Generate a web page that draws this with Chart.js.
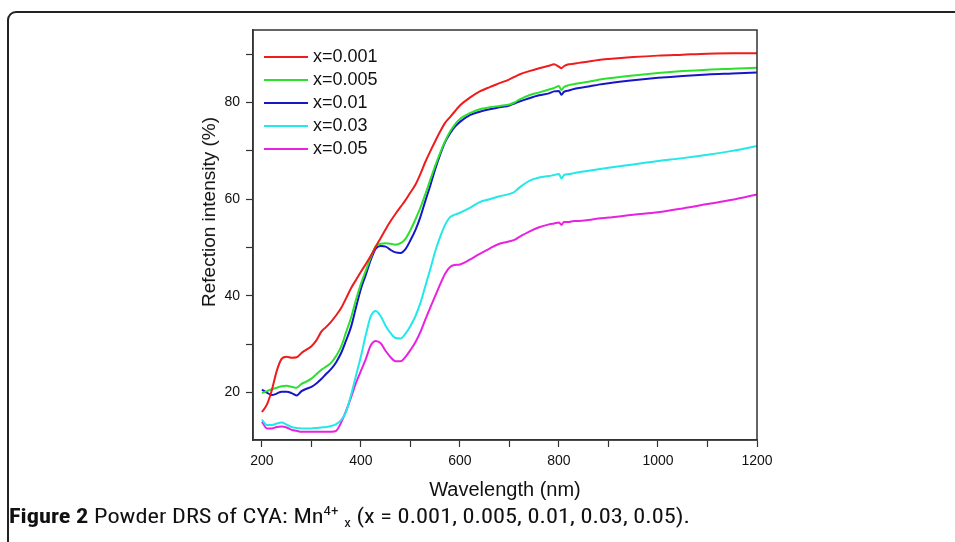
<!DOCTYPE html>
<html>
<head>
<meta charset="utf-8">
<script src="https://cdn.jsdelivr.net/npm/chart.js@4.4.1/dist/chart.umd.min.js"></script>
<style>
  html, body { margin: 0; padding: 0; background: #fff; }
  body { width: 955px; height: 542px; position: relative; overflow: hidden; font-family: "Liberation Sans", Arial, sans-serif; }
  #moldura { position: absolute; left: 7px; top: 11px; width: 1000px; height: 600px; border: 2px solid #222; border-radius: 9px; }
  #caixa { position: absolute; left: 0; top: 0; width: 955px; height: 542px; }
  #legenda { position: absolute; left: 264px; top: 45px; }
  .item { height: 23px; display: flex; align-items: center; font-size: 18px; color: #111; }
  .item .linha { display: inline-block; width: 44px; height: 2px; margin-right: 5px; }
  #tituloY { position: absolute; left: 209px; top: 212px; transform: translate(-50%, -50%) rotate(-90deg); font-size: 19px; color: #111; white-space: nowrap; }
  #legendaFig { position: absolute; left: 9px; top: 503px; font-family: "Liberation Sans Narrow", "Roboto Condensed", Roboto, sans-serif; font-size: 21px; color: #111; white-space: nowrap; transform-origin: 0 0; }
  #legendaFig b { font-weight: bold; }
  #legendaFig sup { font-size: 13px; vertical-align: 8px; }
  #legendaFig sub { font-size: 13px; vertical-align: -4px; }
</style>
</head>
<body>
<div id="moldura"></div>
<div id="caixa"><canvas id="grafico" width="955" height="542"></canvas></div>
<div id="legenda"></div>
<div id="tituloY">Refection intensity (%)</div>
<div id="legendaFig"><b>Figure 2</b> Powder DRS of CYA: Mn<sup>4+</sup> <sub>x</sub> (x = 0.001, 0.005, 0.01, 0.03, 0.05).</div>
<script>
const comprimentos = [200, 210, 220, 230, 240, 250, 260, 270, 280, 290, 300, 310, 320, 330, 340, 350, 360, 370, 380, 390,
  400, 410, 420, 430, 440, 450, 460, 470, 480, 490, 500, 510, 520, 530, 540, 550, 560, 570, 580, 590,
  600, 620, 640, 660, 680, 700, 710, 720, 740, 760, 780, 790, 800, 805, 810, 820, 830, 840, 860, 880,
  900, 950, 1000, 1050, 1100, 1150, 1200];

const rotulos = ['x=0.001', 'x=0.005', 'x=0.01', 'x=0.03', 'x=0.05'];
const cores = ['#ee1c1c', '#2ee02e', '#1616c8', '#22e8e8', '#e822e0'];

const x0001 = [16.0, 17.5, 20.5, 24.5, 27.0, 27.4, 27.2, 27.3, 28.2, 28.9, 29.6, 30.8, 32.6, 33.6, 34.7, 36.0, 37.5, 39.5, 41.6, 43.3,
  45.0, 46.6, 48.3, 50.2, 52.0, 53.8, 55.5, 57.0, 58.4, 59.8, 61.4, 63.0, 65.2, 67.7, 69.9, 72.0, 74.0, 75.8, 77.0, 78.2,
  79.4, 81.0, 82.3, 83.2, 84.0, 84.8, 85.3, 85.8, 86.5, 87.1, 87.6, 87.9, 87.4, 87.1, 87.5, 87.9, 88.0, 88.2, 88.5, 88.8,
  89.0, 89.4, 89.7, 89.9, 90.1, 90.2, 90.2];

const x0005 = [19.9, 20.3, 20.7, 21.0, 21.3, 21.4, 21.2, 21.0, 21.8, 22.3, 22.9, 23.8, 24.7, 25.4, 26.2, 27.6, 29.5, 32.5, 35.5, 39.2,
  42.5, 45.3, 48.0, 50.3, 50.8, 50.9, 50.8, 50.6, 50.9, 51.8, 53.6, 55.8, 58.2, 61.0, 64.0, 66.9, 69.6, 72.0, 74.0, 75.5,
  76.6, 77.8, 78.6, 79.0, 79.3, 79.6, 80.0, 80.6, 81.5, 82.1, 82.7, 83.0, 83.4, 82.6, 83.2, 83.6, 83.8, 84.0, 84.3, 84.7,
  85.0, 85.6, 86.1, 86.5, 86.8, 87.0, 87.2];

const x001 = [20.6, 20.0, 19.5, 19.8, 20.2, 20.2, 19.9, 19.4, 20.3, 20.8, 21.2, 21.9, 22.8, 23.9, 24.9, 26.3, 28.2, 30.8, 33.6, 37.6,
  41.5, 44.4, 47.5, 49.8, 50.3, 50.2, 49.5, 49.0, 48.9, 49.7, 51.5, 53.6, 56.3, 59.6, 62.8, 66.2, 69.2, 71.8, 73.6, 75.0,
  76.0, 77.4, 78.1, 78.6, 79.0, 79.4, 79.8, 80.2, 80.9, 81.5, 81.9, 82.3, 82.4, 81.6, 82.2, 82.5, 82.8, 83.0, 83.3, 83.7,
  84.0, 84.6, 85.1, 85.5, 85.8, 86.0, 86.2];

const x003 = [14.4, 13.3, 13.3, 13.6, 13.8, 13.4, 12.9, 12.7, 12.6, 12.6, 12.6, 12.7, 12.8, 12.9, 13.1, 13.5, 14.3, 16.0, 19.5, 23.5,
  27.5, 32.0, 35.8, 36.9, 35.8, 33.8, 32.3, 31.3, 31.2, 32.2, 33.8, 35.8, 38.5, 42.0, 45.5, 49.2, 52.2, 54.7, 56.3, 56.8,
  57.2, 58.2, 59.4, 60.0, 60.6, 61.1, 61.5, 62.4, 63.8, 64.5, 64.8, 65.0, 65.2, 64.3, 65.0, 65.2, 65.4, 65.6, 65.9, 66.2,
  66.5, 67.2, 67.9, 68.5, 69.2, 70.0, 71.0];

const x005 = [14.0, 12.6, 12.6, 12.9, 13.0, 12.8, 12.3, 12.1, 11.9, 11.9, 11.9, 11.9, 11.9, 11.9, 11.9, 12.1, 13.8, 16.2, 19.0, 22.0,
  24.5, 27.0, 29.8, 30.7, 30.2, 28.6, 27.3, 26.5, 26.5, 27.4, 28.8, 30.4, 32.5, 35.1, 37.6, 40.0, 42.4, 44.6, 46.0, 46.4,
  46.5, 47.5, 48.7, 49.8, 50.8, 51.3, 51.6, 52.2, 53.3, 54.2, 54.8, 55.0, 55.2, 54.7, 55.3, 55.3, 55.5, 55.5, 55.7, 56.0,
  56.2, 56.8, 57.3, 58.1, 59.0, 59.9, 61.0];

const ticksX = [200, 300, 400, 500, 600, 700, 800, 900, 1000, 1100, 1200];
const ticksY = [20, 30, 40, 50, 60, 70, 80, 90];

const series = [x0001, x0005, x001, x003, x005];

const corEixo = '#333';

// moldura fechada do grafico (topo e direita)
const caixaPlugin = {
  id: 'caixa',
  afterDraw(chart) {
    const { ctx, chartArea } = chart;
    ctx.save();
    ctx.strokeStyle = corEixo;
    ctx.lineWidth = 1.5;
    ctx.strokeRect(chartArea.left, chartArea.top, chartArea.right - chartArea.left, chartArea.bottom - chartArea.top);
    ctx.restore();
  }
};

const datasets = series.map((s, i) => ({
  label: rotulos[i],
  data: comprimentos.map((w, j) => ({ x: w, y: s[j] })),
  borderColor: cores[i],
  backgroundColor: cores[i],
  borderWidth: 2,
  pointRadius: 0,
  cubicInterpolationMode: 'monotone',
  fill: false
}));

new Chart(document.getElementById('grafico'), {
  type: 'line',
  data: { datasets },
  options: {
    responsive: false,
    animation: false,
    layout: { padding: { left: 197, right: 198, top: 30, bottom: 40 } },
    plugins: {
      legend: { display: false },
      tooltip: { enabled: false }
    },
    scales: {
      x: {
        type: 'linear',
        min: 182,
        max: 1200,
        afterBuildTicks: (s) => { s.ticks = ticksX.map(v => ({ value: v })); },
        afterFit: (s) => { s.height = 62; },
        ticks: {
          callback: (v) => (v % 200 === 0 ? v : ''),
          font: { family: 'Liberation Sans', size: 14 },
          color: '#111',
          padding: 6,
          maxRotation: 0,
          autoSkip: false
        },
        grid: { drawOnChartArea: false, drawTicks: true, tickLength: 7, color: corEixo, tickWidth: 1.2 },
        border: { color: corEixo, width: 1.5 },
        title: {
          display: true,
          text: 'Wavelength (nm)',
          font: { family: 'Liberation Sans', size: 20 },
          color: '#111',
          padding: { top: 0, bottom: 0 }
        }
      },
      y: {
        min: 10.2,
        max: 95,
        afterBuildTicks: (s) => { s.ticks = ticksY.map(v => ({ value: v })); },
        afterFit: (s) => { s.width = 56; },
        ticks: {
          callback: (v) => (v % 20 === 0 ? v : ''),
          font: { family: 'Liberation Sans', size: 14 },
          color: '#111',
          padding: 6,
          autoSkip: false
        },
        grid: { drawOnChartArea: false, drawTicks: true, tickLength: 7, color: corEixo, tickWidth: 1.2 },
        border: { color: corEixo, width: 1.5 }
      }
    }
  },
  plugins: [caixaPlugin]
});

// legenda dentro da area do grafico
const legenda = document.getElementById('legenda');
rotulos.forEach((r, i) => {
  const div = document.createElement('div');
  div.classList.add('item');
  div.innerHTML = `<span class="linha" style="background:${cores[i]}"></span>${r}`;
  legenda.appendChild(div);
});

// ajusta a largura da legenda da figura
const fig = document.getElementById('legendaFig');
const larguraFig = fig.getBoundingClientRect().width;
fig.style.transform = `scaleX(${681 / larguraFig})`;
</script>
</body>
</html>
